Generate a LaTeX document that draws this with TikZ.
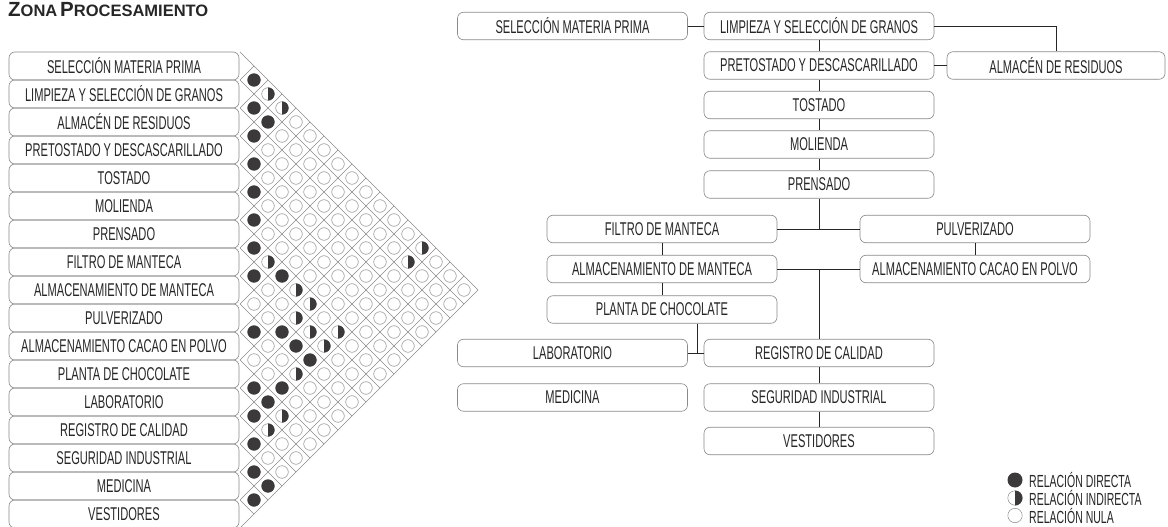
\documentclass[tikz,border=0pt]{standalone}
\usepackage{fontspec}
\setmainfont{Liberation Sans}[FakeStretch=0.6]
\newfontfamily\titlefont{Liberation Sans}[FakeStretch=1.0]
\usetikzlibrary{calc}
\definecolor{dark}{HTML}{3C393A}
\definecolor{gridc}{HTML}{8C8C8C}
\definecolor{boxc}{HTML}{8A8A8A}
\definecolor{txt}{HTML}{262626}
\begin{document}
\begin{tikzpicture}[x=1pt,y=-1pt,
  lbox/.style={draw=boxc, line width=0.6pt, rounded corners=6pt, minimum width=230pt, minimum height=28pt, inner sep=0pt, text=txt, font=\fontsize{18.5}{20}\selectfont},
  flowbox/.style={lbox, minimum height=27.5pt},
  conn/.style={draw=black!85, line width=0.8pt},
  gridl/.style={draw=gridc, line width=0.5pt},
  ecirc/.style={draw=gridc, line width=0.5pt, fill=white},
  fcirc/.style={fill=dark},
  legtext/.style={anchor=west, inner sep=0pt, text=txt, font=\fontsize{17.5}{19}\selectfont}]
\useasboundingbox (0,0) rectangle (1168,527);
\fill[white] (0,0) rectangle (1168,527);

% title
\node[anchor=base west, inner sep=0pt, text=txt] (title) at (8,17) {\titlefont\bfseries{\fontsize{20.5}{20.5}\selectfont Z}{\fontsize{16.5}{16.5}\selectfont ONA} {\fontsize{20.5}{20.5}\selectfont P}{\fontsize{16.5}{16.5}\selectfont ROCESAMIENTO}};

% left list
\foreach \t [count=\i from 0] in {SELECCIÓN MATERIA PRIMA, LIMPIEZA Y SELECCIÓN DE GRANOS, ALMACÉN DE RESIDUOS, PRETOSTADO Y DESCASCARILLADO, TOSTADO, MOLIENDA, PRENSADO, FILTRO DE MANTECA, ALMACENAMIENTO DE MANTECA, PULVERIZADO, ALMACENAMIENTO CACAO EN POLVO, PLANTA DE CHOCOLATE, LABORATORIO, REGISTRO DE CALIDAD, SEGURIDAD INDUSTRIAL, MEDICINA, VESTIDORES}
  \node[lbox] (L\i) at (124, {66+28*\i}) {\t};

% matrix grid
\foreach \k in {0,...,16} {
  \draw[gridl] (240, {52+28*\k}) -- ({478-14*\k}, {290+14*\k});
  \draw[gridl] (240, {80+28*\k}) -- ({254+14*\k}, {66+14*\k});
}
% empty circles
\foreach \d in {1,...,16} {
  \pgfmathtruncatemacro\m{16-\d}
  \foreach \i in {0,...,\m}
    \draw[ecirc] ({240+14*\d}, {66+14*(2*\i+\d)}) circle (6.3);
}
% direct relation
\foreach \i/\j in {0/1,1/2,1/3,2/3,3/4,4/5,5/6,6/7,7/8,6/9,9/10,8/11,8/12,8/13,11/12,10/13,11/13,12/13,13/14,14/15,14/16,15/16}
  \fill[fcirc] ({240+14*(\j-\i)}, {66+14*(\i+\j)}) circle (6.6);
% indirect relation
\foreach \i/\j in {0/2,0/3,6/8,6/10,6/11,7/11,7/12,6/13,7/13,9/13,11/14,12/14,0/13,1/13}
  \fill[fcirc] ({240+14*(\j-\i)}, {66+14*(\i+\j)-6.6}) arc[start angle=-90, end angle=90, radius=6.6] -- cycle;

% flow diagram
\node[flowbox] (sel)    at (572.5, 26)  {SELECCIÓN MATERIA PRIMA};
\node[flowbox] (limp)   at (819, 26)    {LIMPIEZA Y SELECCIÓN DE GRANOS};
\node[flowbox] (pret)   at (819, 65.5)  {PRETOSTADO Y DESCASCARILLADO};
\node[flowbox, minimum width=218pt] (alm) at (1056, 65.5) {ALMACÉN DE RESIDUOS};
\node[flowbox] (tost)   at (819, 105)   {TOSTADO};
\node[flowbox] (mol)    at (819, 144.5) {MOLIENDA};
\node[flowbox] (pren)   at (819, 184.5) {PRENSADO};
\node[flowbox] (filtro) at (662, 229)   {FILTRO DE MANTECA};
\node[flowbox] (pulv)   at (975, 229)   {PULVERIZADO};
\node[flowbox] (almm)   at (662, 269)   {ALMACENAMIENTO DE MANTECA};
\node[flowbox] (almc)   at (975, 269)   {ALMACENAMIENTO CACAO EN POLVO};
\node[flowbox] (planta) at (662, 309.5) {PLANTA DE CHOCOLATE};
\node[flowbox] (lab)    at (572.5, 353) {LABORATORIO};
\node[flowbox] (reg)    at (819, 353)   {REGISTRO DE CALIDAD};
\node[flowbox] (med)    at (572.5, 397.5) {MEDICINA};
\node[flowbox] (seg)    at (819, 397.5) {SEGURIDAD INDUSTRIAL};
\node[flowbox] (vest)   at (819, 441)   {VESTIDORES};

\coordinate (j1) at (819, 229);
\coordinate (j2) at (819, 269);
\coordinate (j3) at (697, 353);

\draw[conn] (sel.east) -- (limp.west);
\draw[conn] (limp.east) -| (alm.north);
\draw[conn] (pret.east) -- (alm.west);
\draw[conn] (limp.south) -- (pret.north);
\draw[conn] (pret.south) -- (tost.north);
\draw[conn] (tost.south) -- (mol.north);
\draw[conn] (mol.south) -- (pren.north);
\draw[conn] (pren.south) -- (j1);
\draw[conn] (filtro.east) -- (pulv.west);
\draw[conn] (almm.east) -- (almc.west);
\draw[conn] (j2) -- (reg.north);
\draw[conn] (filtro.south) -- (almm.north);
\draw[conn] (almm.south) -- (planta.north);
\draw[conn] (pulv.south) -- (almc.north);
\draw[conn] (planta.south -| j3) -- (j3);
\draw[conn] (lab.east) -- (reg.west);
\draw[conn] (reg.south) -- (seg.north);
\draw[conn] (seg.south) -- (vest.north);

% legend
\fill[fcirc] (1015, 480) circle (7.5);
\draw[ecirc] (1015, 498) circle (7.2);
\fill[fcirc] (1015, 490.5) arc[start angle=-90, end angle=90, radius=7.5] -- cycle;
\draw[ecirc] (1015, 515.5) circle (7.2);
\node[legtext] (l1) at (1029, 480) {RELACIÓN DIRECTA};
\node[legtext] (l2) at (1029, 498) {RELACIÓN INDIRECTA};
\node[legtext] (l3) at (1029, 515.5) {RELACIÓN NULA};
\end{tikzpicture}
\end{document}
